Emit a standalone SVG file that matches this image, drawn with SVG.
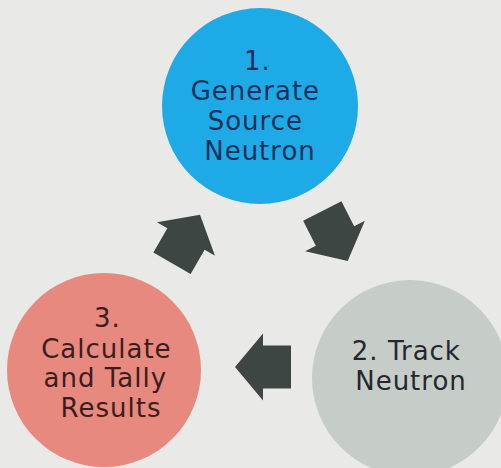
<svg xmlns="http://www.w3.org/2000/svg" width="501" height="468" viewBox="0 0 501 468">
  <style>
    .lbl { font-family: "DejaVu Sans", "Liberation Sans", sans-serif; font-size: 26px; letter-spacing: 1px; text-anchor: middle; }
    .arrow { fill: #3e4643; }
  </style>
  <defs>
    <!-- block arrow pointing right, centred on the origin -->
    <path id="blockArrow" d="M-28,-21.5 H0 V-33.5 L28,0 L0,33.5 V21.5 H-28 Z"/>
  </defs>

  <rect width="501" height="468" fill="#e9e9e8"/>

  <g id="step1">
    <circle cx="260" cy="106" r="98" fill="#1ea9e7"/>
    <text class="lbl" fill="#17305a">
      <tspan x="262" y="70">1.</tspan>
      <tspan x="260" y="100">Generate</tspan>
      <tspan x="260" y="130">Source</tspan>
      <tspan x="260" y="160">Neutron</tspan>
    </text>
  </g>

  <g id="step2">
    <circle cx="410" cy="378" r="98" fill="#c6cdc9"/>
    <text class="lbl" fill="#26262e">
      <tspan x="411" y="360">2. Track</tspan>
      <tspan x="411" y="390">Neutron</tspan>
    </text>
  </g>

  <g id="step3">
    <circle cx="104" cy="370" r="97" fill="#e8897f"/>
    <text class="lbl" fill="#3a1d1c">
      <tspan x="112" y="327">3.</tspan>
      <tspan x="111" y="358">Calculate</tspan>
      <tspan x="110" y="387">and Tally</tspan>
      <tspan x="111" y="417">Results</tspan>
    </text>
  </g>

  <g id="connectors">
    <use href="#blockArrow" class="arrow" transform="translate(335,236) rotate(63)"/>
    <use href="#blockArrow" class="arrow" transform="translate(263,367) rotate(180)"/>
    <use href="#blockArrow" class="arrow" transform="translate(186,239) rotate(-60)"/>
  </g>
</svg>
